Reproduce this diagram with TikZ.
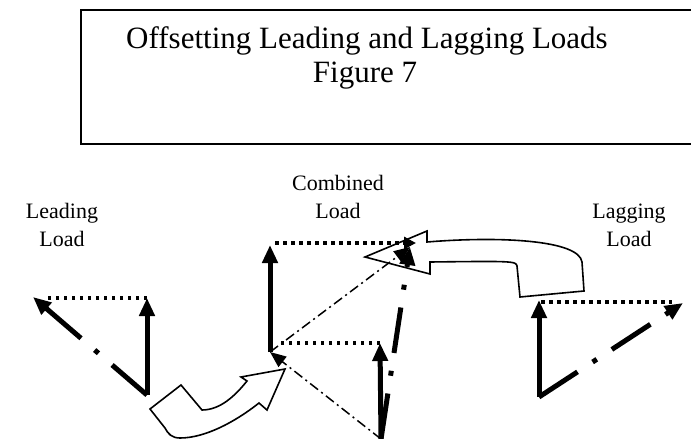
\documentclass[tikz,border=0pt]{standalone}
\usepackage{fontspec}
\setmainfont{Liberation Serif}
\usetikzlibrary{arrows.meta}

\begin{document}
\begin{tikzpicture}[x=1pt, y=-1pt,
	every node/.style={inner sep=0pt},
	lbl/.style={font=\fontsize{22}{27}\selectfont, anchor=base},
	bigtip/.style={-{Triangle[length=18pt,width=15pt]}},
	vecline/.style={line width=5pt, bigtip},
	phasor/.style={line width=5pt, dash pattern=on 46pt off 18pt on 5pt off 18pt, bigtip},
	thinphasor/.style={line width=1.5pt, dash pattern=on 10pt off 4pt on 2pt off 4pt, -{Triangle[length=16pt,width=13pt]}},
	dotline/.style={line width=3.5pt, dash pattern=on 3.5pt off 4.5pt},
	bendarrow/.style={line width=1.6pt, line join=miter}]
	\useasboundingbox (0,0) rectangle (691,439);
	% title box, open on the right
	\draw[line width=1.6pt] (700,10) -- (81,10) -- (81,144) -- (700,144);
	\node[font=\fontsize{31}{34}\selectfont, anchor=base] (title) at (367,48) {Offsetting Leading and Lagging Loads};
	\node[font=\fontsize{31}{34}\selectfont, anchor=base] (fig) at (365,82) {Figure 7};
	% labels
	\node[lbl] (leadA) at (62,218) {Leading};
	\node[lbl] (leadB) at (62,246) {Load};
	\node[lbl] (combA) at (338,190) {Combined};
	\node[lbl] (combB) at (338,218) {Load};
	\node[lbl] (lagA) at (629,218) {Lagging};
	\node[lbl] (lagB) at (629,246) {Load};
	% hollow bent arrows
	\draw[bendarrow] (150,409) -- (181,385) -- (202,410) .. controls (220,410) and (235,396) .. (247,381)
		-- (241,377) -- (285,369) -- (267,410) -- (259,403) .. controls (235,422) and (205,438) .. (180,438)
		.. controls (172,438) and (168,434) .. (165,428) -- cycle;
	\draw[bendarrow] (365,257) -- (427,231) -- (427,242) .. controls (500,236) and (579,240) .. (582,262)
		-- (584,291) -- (520,297) -- (517,266) .. controls (516,261) and (512,261) .. (430,262)
		-- (430,274) -- cycle;
	% leading load
	\coordinate (ldO) at (147,395);
	\coordinate (ldR) at (147,298);
	\coordinate (ldT) at (33,297);
	\draw[dotline] (ldR) -- (46,298);
	\draw[vecline] (ldO) -- (ldR);
	\draw[phasor] (ldO) -- (ldT);
	% combined load
	\coordinate (cbO) at (381,439);
	\coordinate (cbR) at (380,343);
	\coordinate (cbM) at (270,352);
	\coordinate (cbU) at (270,245);
	\coordinate (cbT) at (410,247);
	\draw[dotline] (cbR) -- (280,343);
	\draw[dotline, -{Triangle[length=12pt,width=12pt]}] (275,243) -- (416,243);
	\draw[vecline] (cbO) -- (cbR);
	\draw[vecline] (cbM) -- (cbU);
	\draw[thinphasor] (cbO) -- (cbM);
	\draw[thinphasor] (cbM) -- (cbT);
	\draw[phasor] (cbO) -- (cbT);
	% lagging load
	\coordinate (lgO) at (539,397);
	\coordinate (lgR) at (539,300);
	\coordinate (lgT) at (683,303);
	\draw[dotline] (541,302) -- (672,302);
	\draw[vecline] (lgO) -- (lgR);
	\draw[phasor] (lgO) -- (lgT);
\end{tikzpicture}
\end{document}
